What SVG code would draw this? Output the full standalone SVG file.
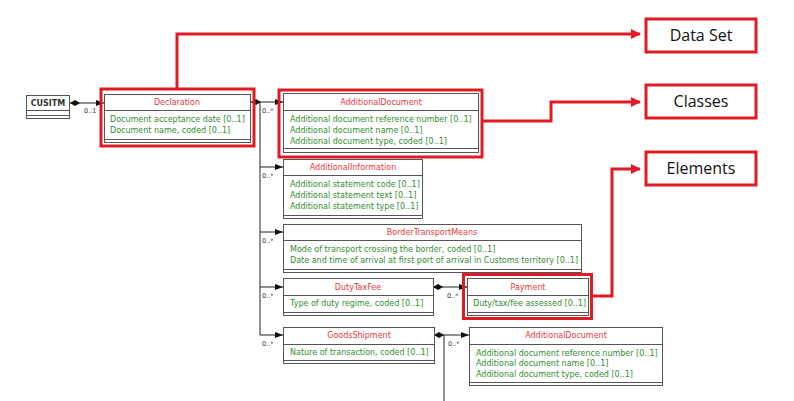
<svg xmlns="http://www.w3.org/2000/svg" width="794" height="401" viewBox="0 0 794 401">
<defs>
<style>
.box{fill:#fff;stroke:#555;stroke-width:1}
.sep{stroke:#555;stroke-width:1;fill:none}
.hd{font-family:"DejaVu Sans",Tahoma,sans-serif;font-size:8px;fill:#e8383d;text-anchor:middle}
.at{font-family:"DejaVu Sans",Tahoma,sans-serif;font-size:8px;fill:#2f8f2f}
.cu{font-family:"DejaVu Sans",Tahoma,sans-serif;font-size:8px;font-weight:bold;fill:#333;text-anchor:middle}
.ml{font-family:"DejaVu Sans",Tahoma,sans-serif;font-size:6.5px;fill:#333}
.ln{stroke:#222;stroke-width:1;fill:none}
.hl{fill:none;stroke:#e01b24;stroke-width:3}
.rl{fill:none;stroke:#e01b24;stroke-width:3}
.lb{fill:#fff;stroke:#e01b24;stroke-width:3}
.lt{font-family:"Open Sans","Liberation Sans",sans-serif;font-size:16px;fill:#111;text-anchor:middle}
</style>
<marker id="ar" viewBox="0 0 8 6" refX="8" refY="3" markerWidth="8" markerHeight="6" markerUnits="userSpaceOnUse" orient="auto">
<path d="M0,0 L8,3 L0,6 Z" fill="#111"/>
</marker>
<marker id="dm" viewBox="0 0 10 6" refX="0" refY="3" markerWidth="10" markerHeight="6" markerUnits="userSpaceOnUse" orient="auto">
<path d="M0,3 L5,0 L10,3 L5,6 Z" fill="#111"/>
</marker>
<marker id="ra" viewBox="0 0 10 10" refX="9" refY="5" markerWidth="10" markerHeight="10" markerUnits="userSpaceOnUse" orient="auto">
<path d="M0,0 L10,5 L0,10 Z" fill="#e01b24"/>
</marker>
</defs>
<rect width="794" height="401" fill="#fff"/>

<g id="connectors">
<path class="ln" d="M70,103 H104" marker-start="url(#dm)" marker-end="url(#ar)"/>
<text class="ml" x="84" y="113">0..1</text>
<path class="ln" d="M251,102 H283" marker-start="url(#dm)" marker-end="url(#ar)"/>
<path class="ln" d="M260,102 V335"/>
<path class="ln" d="M260,167 H283" marker-end="url(#ar)"/>
<path class="ln" d="M260,232 H283" marker-end="url(#ar)"/>
<path class="ln" d="M260,287 H283" marker-end="url(#ar)"/>
<path class="ln" d="M260,335 H283" marker-end="url(#ar)"/>
<text class="ml" x="262" y="113">0..*</text>
<text class="ml" x="262" y="178">0..*</text>
<text class="ml" x="262" y="243">0..*</text>
<text class="ml" x="262" y="298">0..*</text>
<text class="ml" x="262" y="346">0..*</text>
<path class="ln" d="M433,287 H467" marker-start="url(#dm)" marker-end="url(#ar)"/>
<text class="ml" x="447" y="298">0..*</text>
<path class="ln" d="M434,335 H469" marker-start="url(#dm)" marker-end="url(#ar)"/>
<path class="ln" d="M444,335 V401"/>
<text class="ml" x="448" y="346">0..*</text>
</g>

<g id="CUSITM">
<rect class="box" x="26.5" y="95.5" width="43" height="23"/>
<path class="sep" d="M26.5,110.5 H69.5 M26.5,115.5 H69.5"/>
<text class="cu" x="48" y="106">CUSITM</text>
</g>

<g id="Declaration">
<rect class="box" x="104.5" y="94.5" width="146" height="48"/>
<path class="sep" d="M104.5,110.5 H250.5 M104.5,139.5 H250.5"/>
<text class="hd" x="177" y="105">Declaration</text>
<text class="at" x="110" y="122">Document acceptance date [0..1]</text>
<text class="at" x="110" y="133">Document name, coded [0..1]</text>
</g>

<g id="AdditionalDocument">
<rect class="box" x="283.5" y="93.5" width="195" height="59"/>
<path class="sep" d="M283.5,110.5 H478.5 M283.5,148.5 H478.5"/>
<text class="hd" x="381" y="105">AdditionalDocument</text>
<text class="at" x="290" y="122">Additional document reference number [0..1]</text>
<text class="at" x="290" y="133">Additional document name [0..1]</text>
<text class="at" x="290" y="144">Additional document type, coded [0..1]</text>
</g>

<g id="AdditionalInformation">
<rect class="box" x="283.5" y="159.5" width="139" height="59"/>
<path class="sep" d="M283.5,175.5 H422.5 M283.5,215.5 H422.5"/>
<text class="hd" x="353" y="170">AdditionalInformation</text>
<text class="at" x="290" y="187">Additional statement code [0..1]</text>
<text class="at" x="290" y="198">Additional statement text [0..1]</text>
<text class="at" x="290" y="209">Additional statement type [0..1]</text>
</g>

<g id="BorderTransportMeans">
<rect class="box" x="283.5" y="224.5" width="298" height="48"/>
<path class="sep" d="M283.5,240.5 H581.5 M283.5,269.5 H581.5"/>
<text class="hd" x="432" y="235">BorderTransportMeans</text>
<text class="at" x="290" y="252">Mode of transport crossing the border, coded [0..1]</text>
<text class="at" x="290" y="263">Date and time of arrival at first port of arrival in Customs territory [0..1]</text>
</g>

<g id="DutyTaxFee">
<rect class="box" x="283.5" y="278.5" width="150" height="37"/>
<path class="sep" d="M283.5,295.5 H433.5 M283.5,312.5 H433.5"/>
<text class="hd" x="358" y="290">DutyTaxFee</text>
<text class="at" x="290" y="306">Type of duty regime, coded [0..1]</text>
</g>

<g id="Payment">
<rect class="box" x="467.5" y="278.5" width="121" height="37"/>
<path class="sep" d="M467.5,295.5 H588.5 M467.5,312.5 H588.5"/>
<text class="hd" x="528" y="290">Payment</text>
<text class="at" x="473" y="306">Duty/tax/fee assessed [0..1]</text>
</g>

<g id="GoodsShipment">
<rect class="box" x="283.5" y="327.5" width="151" height="36"/>
<path class="sep" d="M283.5,344.5 H434.5 M283.5,360.5 H434.5"/>
<text class="hd" x="359" y="338">GoodsShipment</text>
<text class="at" x="290" y="355">Nature of transaction, coded [0..1]</text>
</g>

<g id="AdditionalDocument2">
<rect class="box" x="469.5" y="327.5" width="193" height="58"/>
<path class="sep" d="M469.5,344.5 H662.5 M469.5,382.5 H662.5"/>
<text class="hd" x="566" y="338">AdditionalDocument</text>
<text class="at" x="476" y="356">Additional document reference number [0..1]</text>
<text class="at" x="476" y="366">Additional document name [0..1]</text>
<text class="at" x="476" y="377">Additional document type, coded [0..1]</text>
</g>

<g id="highlights">
<rect class="hl" x="101" y="89" width="153" height="57"/>
<rect class="hl" x="279" y="90" width="203" height="67"/>
<rect class="hl" x="463.5" y="274.5" width="128" height="44"/>
<path class="rl" d="M177,89 V34 H640" marker-end="url(#ra)"/>
<path class="rl" d="M482,121 H551 V102 H640" marker-end="url(#ra)"/>
<path class="rl" d="M591,296 H612 V169 H640" marker-end="url(#ra)"/>
</g>

<g id="DataSet">
<rect class="lb" x="646" y="19" width="110" height="33"/>
<text class="lt" x="701" y="41">Data Set</text>
</g>
<g id="Classes">
<rect class="lb" x="646" y="85" width="110" height="33"/>
<text class="lt" x="701" y="107">Classes</text>
</g>
<g id="Elements">
<rect class="lb" x="646" y="152" width="110" height="33"/>
<text class="lt" x="701" y="174">Elements</text>
</g>
</svg>
